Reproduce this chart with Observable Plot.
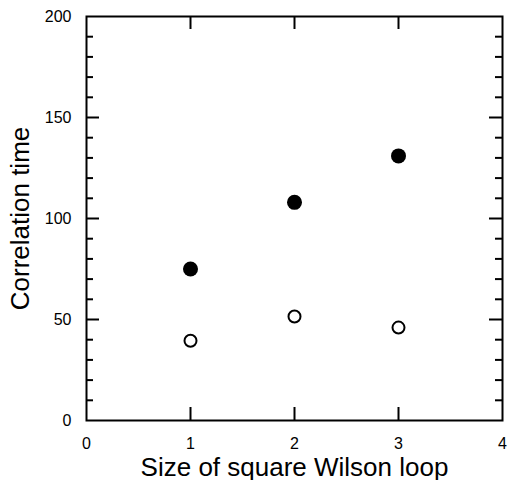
<!DOCTYPE html>
<html><head><meta charset="utf-8">
<script src="https://cdn.jsdelivr.net/npm/d3@7"></script>
<script src="https://cdn.jsdelivr.net/npm/@observablehq/plot@0.6"></script>
<style>
body{margin:0;background:#fff;}
svg{font-family:"Liberation Sans",Arial,sans-serif;}
g[aria-label="x-axis label"] text, g[aria-label="y-axis label"] text{font-size:26px;}
g[aria-label="x-axis tick label"] text, g[aria-label="y-axis tick label"] text{font-size:16px;}
</style>
</head><body>
<div id="chart"></div>
<script>
const loopSize = [1, 2, 3];
const filledTime = [75, 108, 131];
const openTime = [39.5, 51.5, 46];
const xTicks = [0, 1, 2, 3, 4];
const xMajorMarks = [1, 2, 3];
const yTicks = [0, 50, 100, 150, 200];
const yMinorTicks = [10, 20, 30, 40, 60, 70, 80, 90, 110, 120, 130, 140, 160, 170, 180, 190];
const yMajorMarks = [50, 100, 150];

const filled = loopSize.map((x, i) => ({x, y: filledTime[i]}));
const open = loopSize.map((x, i) => ({x, y: openTime[i]}));

const W = 513, H = 480, mL = 86, mR = 11, mT = 16, mB = 60;
const fw = W - mL - mR, fh = H - mT - mB;

const chart = Plot.plot({
  width: W, height: H,
  marginLeft: mL, marginRight: mR, marginTop: mT, marginBottom: mB,
  x: {domain: [0, 4]},
  y: {domain: [0, 200]},
  style: {color: "#000", overflow: "visible"},
  marks: [
    Plot.axisY({ticks: yTicks, tickFormat: d3.format("d"), tickSize: 0, tickPadding: 15, label: "Correlation time", labelAnchor: "center", labelArrow: "none", labelOffset: 76}),
    Plot.axisX({ticks: xTicks, tickFormat: d3.format("d"), tickSize: 0, tickPadding: 17, label: "Size of square Wilson loop", labelAnchor: "center", labelArrow: "none", labelOffset: 55}),
    Plot.tickY(yMinorTicks, {y: d => d, insetRight: fw - 7, strokeWidth: 2}),
    Plot.tickY(yMinorTicks, {y: d => d, insetLeft: fw - 7, strokeWidth: 2}),
    Plot.tickY(yMajorMarks, {y: d => d, insetRight: fw - 13, strokeWidth: 2}),
    Plot.tickY(yMajorMarks, {y: d => d, insetLeft: fw - 13, strokeWidth: 2}),
    Plot.tickX(xMajorMarks, {x: d => d, insetTop: fh - 13, strokeWidth: 2}),
    Plot.tickX(xMajorMarks, {x: d => d, insetBottom: fh - 13, strokeWidth: 2}),
    Plot.frame({stroke: "#000", strokeWidth: 2}),
    Plot.dot(filled, {x: "x", y: "y", r: 7.5, fill: "#000", stroke: "none"}),
    Plot.dot(open, {x: "x", y: "y", r: 6, fill: "#fff", stroke: "#000", strokeWidth: 2})
  ]
});
document.getElementById("chart").appendChild(chart);
</script>
</body></html>
